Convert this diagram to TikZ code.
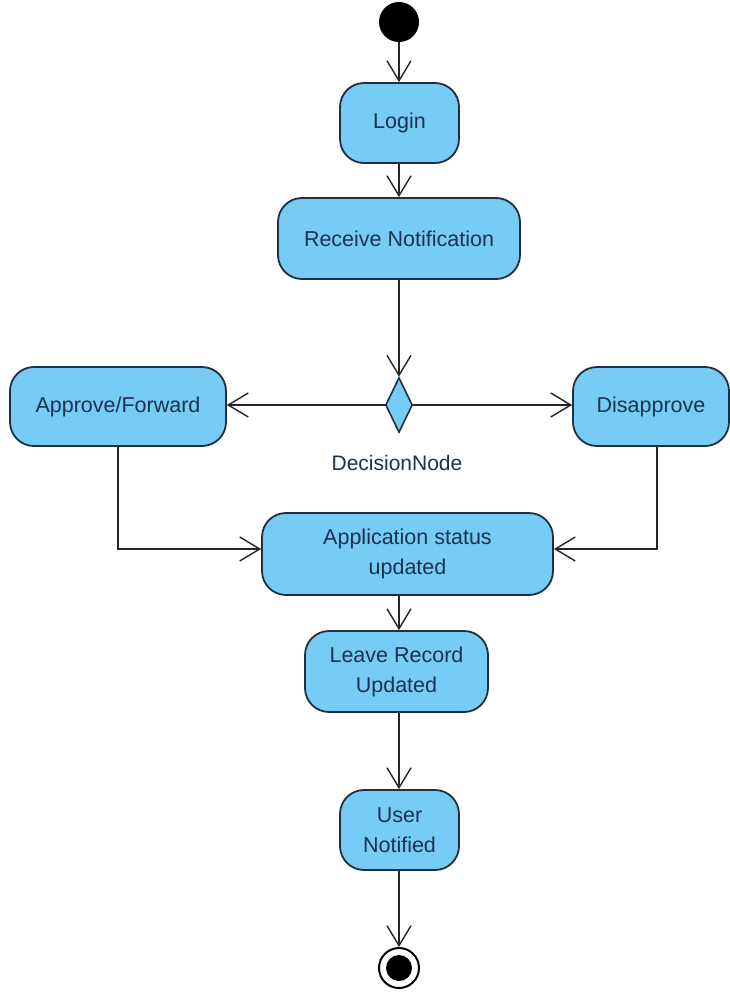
\documentclass[tikz,border=0pt]{standalone}
\usepackage{fontspec}
\setmainfont{Liberation Sans}
\usetikzlibrary{arrows.meta,shapes.geometric}
\definecolor{actfill}{RGB}{118,204,244}
\definecolor{actline}{RGB}{30,48,64}
\definecolor{acttext}{RGB}{26,50,78}
\tikzset{
  activity/.style={draw=actline, fill=actfill, line width=1.8pt, rounded corners=24pt,
    align=center, text=acttext, font=\fontsize{21.5}{30}\selectfont, inner sep=0pt},
  flow/.style={draw=black!85, line width=1.4pt, -{Straight Barb[length=20pt,width=24pt,line width=1.4pt]}},
  decisionbox/.style={diamond, draw=actline, fill=actfill, line width=1.6pt, inner sep=0pt,
    minimum width=27pt, minimum height=55pt},
  labeltext/.style={text=acttext, font=\fontsize{21}{24}\selectfont}
}
\begin{document}
\begin{tikzpicture}[x=1pt,y=-1pt]
  \fill[white] (0,0) rectangle (730,993);
  \useasboundingbox (0,0) rectangle (730,993);

  % initial and final nodes
  \node[circle, fill=black, minimum size=40pt, inner sep=0pt] (start) at (399,22) {};
  \node[circle, draw=black, line width=2pt, fill=white, minimum size=40pt, inner sep=0pt] (finish) at (399,968) {};
  \fill[black] (finish.center) circle (13pt);

  % actions
  \node[activity, minimum width=119pt, minimum height=80pt] (login) at (399.5,123) {Login};
  \node[activity, minimum width=242pt, minimum height=81pt] (recv) at (399,238.5) {Receive Notification};
  \node[decisionbox] (decision) at (399,405) {};
  \node[labeltext] (declabel) at (397,463) {DecisionNode};
  \node[activity, minimum width=216pt, minimum height=79pt] (approve) at (118,406.5) {Approve/Forward};
  \node[activity, minimum width=156pt, minimum height=79pt] (disapprove) at (651,406.5) {Disapprove};
  \node[activity, minimum width=291pt, minimum height=82pt] (appstatus) at (407.5,554) {Application status\\updated};
  \node[activity, minimum width=183pt, minimum height=81pt] (leave) at (396.5,671.5) {Leave Record\\Updated};
  \node[activity, minimum width=119pt, minimum height=80pt] (user) at (399.5,830) {User\\Notified};

  % control flows
  \draw[flow] (start) -- (start |- login.north);
  \draw[flow] (login.south -| start) -- (recv.north -| start);
  \draw[flow] (recv.south -| start) -- (decision.north);
  \draw[flow] (decision.west) -- (decision.west -| approve.east);
  \draw[flow] (decision.east) -- (decision.east -| disapprove.west);
  \draw[flow] (approve.south) |- ([yshift=5pt]appstatus.west);
  \draw[flow] ([xshift=6pt]disapprove.south) |- ([yshift=5pt]appstatus.east);
  \draw[flow] (appstatus.south -| start) -- (leave.north -| start);
  \draw[flow] (leave.south -| start) -- (user.north -| start);
  \draw[flow] (user.south -| start) -- (finish.north);
\end{tikzpicture}
\end{document}
